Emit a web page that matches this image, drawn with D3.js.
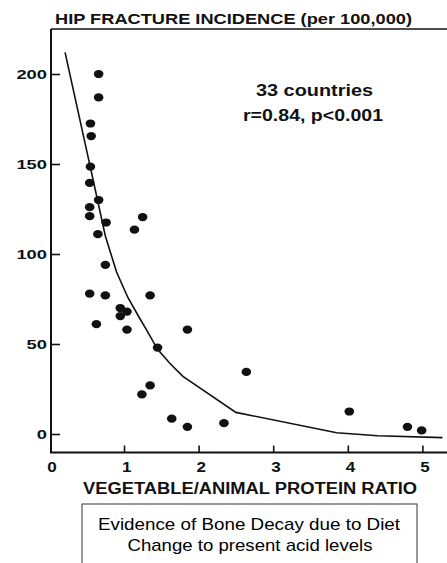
<!DOCTYPE html>
<html>
<head>
<meta charset="utf-8">
<script src="https://cdn.jsdelivr.net/npm/d3@7"></script>
<style>
  html, body { margin: 0; padding: 0; background: #fff; }
  svg { display: block; font-family: "Liberation Sans", Arial, sans-serif; }
</style>
</head>
<body>
<svg id="chart" width="447" height="563"></svg>
<script>
// 33개 국가: 식물성/동물성 단백질 비율 vs 고관절 골절 발생률
const ratio = [0.66, 0.66, 0.55, 0.56, 0.55, 0.54, 0.66, 0.54, 0.54, 0.76, 0.65, 1.14, 1.25,
  0.75, 0.54, 0.75, 0.63, 0.95, 0.95, 1.04, 1.04, 1.35, 1.45, 1.35, 1.24, 1.85, 1.64, 1.85,
  2.34, 2.64, 4.02, 4.80, 4.99];
const incidence = [200, 187, 172.5, 165.5, 148.5, 139.5, 130, 126, 121, 117.5, 111, 113.5, 120.5,
  94, 78, 77, 61, 70, 65.5, 68, 58, 77, 48, 27, 22, 58, 8.5, 4,
  6, 34.5, 12.5, 4, 2];

// 회귀 곡선 (그림에서 읽은 점)
const fitRatio = [0.21, 0.55, 0.75, 0.9, 1.05, 1.2, 1.3, 1.45, 1.62, 1.79, 2.5, 3.85, 4.4, 5.27];
const fitIncidence = [212, 148, 110, 90, 76, 65, 58, 47, 39, 32, 12, 0.7, -1, -2];

const xTicks = [0, 1, 2, 3, 4, 5];
const yTicks = [0, 50, 100, 150, 200];

const svg = d3.select("#chart");
const ink = "#111";

const x = d3.scaleLinear().domain([0, 5]).range([49.4, 422.4]);
const y = d3.scaleLinear().domain([0, 200]).range([434, 74]);
const frameLeft = 51, frameTop = 29, frameBottom = 452.5, frameRight = 447;

// 위쪽 테두리
svg.append("line")
  .attr("x1", frameLeft).attr("x2", frameRight).attr("y1", frameTop).attr("y2", frameTop)
  .attr("stroke", ink).attr("stroke-width", 1.6);

// y축
const yAxis = svg.append("g")
  .attr("transform", `translate(${frameLeft},0)`)
  .call(d3.axisLeft(y).tickValues(yTicks).tickSizeInner(-9).tickSizeOuter(0).tickPadding(4));
yAxis.select(".domain").remove();
yAxis.selectAll(".tick line").attr("stroke", ink).attr("stroke-width", 1.6);
yAxis.selectAll(".tick text")
  .attr("fill", ink)
  .style("font-size", "12.5px")
  .style("font-weight", "bold")
  .style("font-family", "'Liberation Sans', Arial, sans-serif")
  .attr("textLength", (d) => String(d).length * 10.2)
  .attr("lengthAdjust", "spacingAndGlyphs");

// x축
const xAxis = svg.append("g")
  .attr("transform", `translate(0,${frameBottom})`)
  .call(d3.axisBottom(x).tickValues(xTicks).tickFormat(d3.format("d"))
    .tickSizeInner(-7).tickSizeOuter(0).tickPadding(10));
xAxis.select(".domain").remove();
xAxis.selectAll(".tick line").attr("stroke", ink).attr("stroke-width", 1.6);
xAxis.selectAll(".tick line").filter((d) => d === 0).remove();
xAxis.selectAll(".tick text")
  .attr("fill", ink)
  .attr("dx", 2.2)
  .style("font-size", "14px")
  .style("font-weight", "bold")
  .style("font-family", "'Liberation Sans', Arial, sans-serif")
  .attr("textLength", 9.5)
  .attr("lengthAdjust", "spacingAndGlyphs");

// 축 선
svg.append("line")
  .attr("x1", frameLeft).attr("x2", frameLeft).attr("y1", frameTop).attr("y2", frameBottom)
  .attr("stroke", ink).attr("stroke-width", 2);
svg.append("line")
  .attr("x1", frameLeft - 1).attr("x2", frameRight).attr("y1", frameBottom).attr("y2", frameBottom)
  .attr("stroke", ink).attr("stroke-width", 2);

// 회귀 곡선
const fit = fitRatio.map((r, i) => [r, fitIncidence[i]]);
svg.append("path")
  .datum(fit)
  .attr("fill", "none")
  .attr("stroke", ink)
  .attr("stroke-width", 1.6)
  .attr("d", d3.line().x((d) => x(d[0])).y((d) => y(d[1])));

// 점
svg.append("g")
  .selectAll("ellipse")
  .data(ratio.map((r, i) => ({ r, v: incidence[i] })))
  .join("ellipse")
  .attr("cx", (d) => x(d.r))
  .attr("cy", (d) => y(d.v))
  .attr("rx", 4.8)
  .attr("ry", 4.1)
  .attr("fill", ink);

// 텍스트
function label(t, cx, by, size, weight, len) {
  svg.append("text")
    .attr("x", cx).attr("y", by)
    .attr("text-anchor", "middle")
    .attr("font-size", size)
    .attr("font-weight", weight)
    .attr("fill", ink)
    .attr("textLength", len)
    .attr("lengthAdjust", "spacingAndGlyphs")
    .text(t);
}
label("HIP FRACTURE INCIDENCE (per 100,000)", 233.5, 24, 14.5, "bold", 357);
label("33 countries", 314.5, 96, 16, "bold", 117);
label("r=0.84, p<0.001", 313, 120.5, 16, "bold", 140);
label("VEGETABLE/ANIMAL PROTEIN RATIO", 250, 494, 16, "bold", 334);

// 설명 상자
svg.append("rect")
  .attr("x", 82).attr("y", 504)
  .attr("width", 335).attr("height", 80)
  .attr("fill", "none")
  .attr("stroke", "#333")
  .attr("stroke-width", 1);
svg.append("text")
  .attr("x", 249).attr("y", 529.5)
  .attr("text-anchor", "middle").attr("font-size", 17).attr("fill", "#000")
  .attr("textLength", 302).attr("lengthAdjust", "spacingAndGlyphs")
  .text("Evidence of Bone Decay due to Diet");
svg.append("text")
  .attr("x", 250).attr("y", 551)
  .attr("text-anchor", "middle").attr("font-size", 17).attr("fill", "#000")
  .attr("textLength", 245).attr("lengthAdjust", "spacingAndGlyphs")
  .text("Change to present acid levels");
</script>
</body>
</html>
